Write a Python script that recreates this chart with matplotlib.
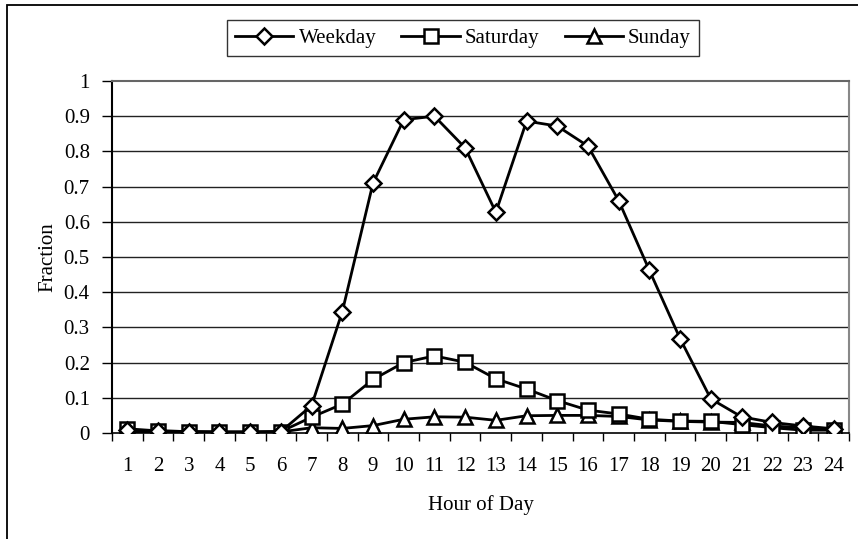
import matplotlib
matplotlib.use("Agg")
import matplotlib.pyplot as plt
from matplotlib.patches import Rectangle

hours = list(range(1, 25))
hour_labels = [str(h) for h in hours]
weekday = [0.008, 0.006, 0.004, 0.003, 0.003, 0.004, 0.078, 0.345, 0.71, 0.89,
           0.90, 0.81, 0.627, 0.886, 0.872, 0.815, 0.66, 0.462, 0.268, 0.097,
           0.046, 0.030, 0.020, 0.012]
saturday = [0.012, 0.006, 0.004, 0.003, 0.003, 0.004, 0.045, 0.082, 0.152, 0.200,
            0.219, 0.201, 0.154, 0.125, 0.092, 0.065, 0.054, 0.039, 0.034, 0.033,
            0.024, 0.015, 0.008, 0.008]
sunday = [0.004, 0.003, 0.002, 0.002, 0.002, 0.003, 0.015, 0.013, 0.021, 0.039,
          0.046, 0.045, 0.036, 0.049, 0.050, 0.050, 0.047, 0.037, 0.033, 0.031,
          0.030, 0.020, 0.015, 0.010]
yticks = [0, 0.1, 0.2, 0.3, 0.4, 0.5, 0.6, 0.7, 0.8, 0.9, 1]
ytick_labels = ['0', '0.1', '0.2', '0.3', '0.4', '0.5', '0.6', '0.7', '0.8', '0.9', '1']

plt.rcParams['font.family'] = ['Liberation Serif', 'DejaVu Serif']
plt.rcParams['font.size'] = 15

W, H = 858, 539
fig = plt.figure(figsize=(W / 100, H / 100), dpi=100)
ax = fig.add_axes([112 / W, 1 - 433 / H, (849 - 112) / W, (433 - 81) / H])

# outer frame
fig.patches.append(Rectangle((7 / W, -0.1), 1.2, 1 - 5 / H + 0.1, transform=fig.transFigure,
                             fill=False, edgecolor='black', linewidth=1.3, zorder=0))

common = dict(color='black', linewidth=2, markerfacecolor='white',
              markeredgecolor='black', markeredgewidth=1.8)
ax.plot(hours, weekday, marker='D', markersize=8, label='Weekday', zorder=5, **common)
ax.plot(hours, saturday, marker='s', markersize=10, label='Saturday', zorder=4, **common)
ax.plot(hours, sunday, marker='^', markersize=10, label='Sunday', zorder=3, **common)

ax.set_xlim(0.5, 24.5)
ax.set_ylim(0, 1)
ax.set_yticks(yticks)
ax.set_yticklabels(ytick_labels)
ax.set_xticks(hours)
ax.set_xticklabels(hour_labels)
ax.set_xticks([h + 0.5 for h in range(0, 25)], minor=True)
ax.tick_params(axis='x', which='major', length=0, pad=17)
ax.tick_params(axis='x', which='minor', length=6, width=1, color='black', direction='out')
ax.tick_params(axis='y', which='major', length=7, width=1, direction='out', pad=9)

for y in yticks[1:-1]:
    ax.axhline(y, color='#222222', linewidth=1, zorder=1)

ax.spines['left'].set_color('black')
ax.spines['left'].set_linewidth(1.5)
ax.spines['bottom'].set_color('black')
ax.spines['bottom'].set_linewidth(1.2)
ax.spines['top'].set_color('#666666')
ax.spines['top'].set_linewidth(1.5)
ax.spines['right'].set_color('#888888')
ax.spines['right'].set_linewidth(1.5)

ax.set_xlabel('Hour of Day', labelpad=14)
ax.set_ylabel('Fraction')
ax.yaxis.set_label_coords(-55 / (849 - 112), 0.5)

leg = fig.legend(loc='center', bbox_to_anchor=((227 + 699) / 2 / W, 1 - 38 / H),
                 ncol=3, frameon=True, fancybox=False, edgecolor='black',
                 handlelength=2.8, handletextpad=0.25, columnspacing=1.2,
                 borderpad=0.4, fontsize=15)
leg.get_frame().set_linewidth(1.0)

fig.savefig('out.png', dpi=100)
